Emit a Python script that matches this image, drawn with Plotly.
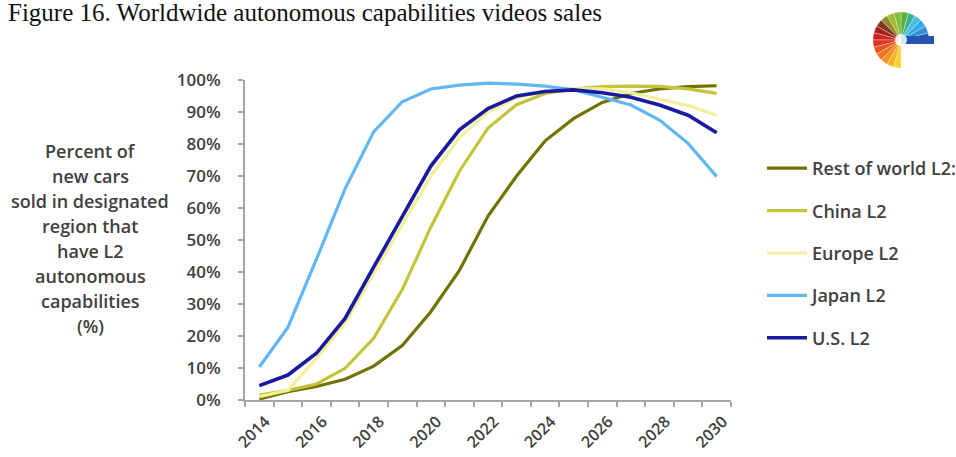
import math
import plotly.graph_objects as go

# Share of new cars sold with L2 autonomous capabilities, by region (%)
years = list(range(2014, 2031))
rest_of_world = [0.3, 2.6, 4.2, 6.5, 10.6, 17.0, 27.6, 40.5, 57.5, 70.0, 81.0, 88.0, 93.0, 95.8, 97.2, 97.9, 98.2]
china = [1.5, 3.0, 5.0, 9.9, 19.3, 34.5, 54.0, 71.5, 85.0, 92.3, 95.8, 97.2, 97.9, 98.1, 98.0, 97.2, 95.8]
europe = [1.0, 3.0, 13.0, 24.0, 39.5, 55.0, 70.0, 82.0, 90.0, 94.5, 96.5, 97.3, 97.2, 96.0, 94.0, 92.0, 89.0]
japan = [10.3, 22.7, 44.0, 66.0, 83.8, 93.2, 97.2, 98.4, 99.0, 98.7, 98.1, 96.9, 94.6, 92.2, 87.5, 80.2, 69.8]
us = [4.5, 7.8, 14.6, 25.5, 41.5, 57.5, 73.1, 84.4, 91.1, 95.0, 96.4, 96.9, 96.0, 94.6, 92.2, 89.0, 83.5]

series_names = ["Rest of world L2:", "China L2", "Europe L2", "Japan L2", "U.S. L2"]
series_values = [rest_of_world, china, europe, japan, us]
series_colors = ["#727200", "#C4C43A", "#F4EF9C", "#62B6F4", "#1A1AA0"]

label_years = list(range(2014, 2031, 2))
y_title_lines = ["Percent of", "new cars", "sold in designated", "region that",
                 "have L2", "autonomous", "capabilities", "(%)"]

W, H = 956, 457
L, R, T, B = 245, 731, 80, 400  # plot area in pixels


def px_x(p):
    return (p - L) / (R - L)


def px_y(p):
    return (B - p) / (B - T)


TEXT = "#404040"
AXIS = "#A6A6A6"
SANS = "Open Sans"

fig = go.Figure()
for i, (name, vals, col) in enumerate(zip(series_names, series_values, series_colors)):
    fig.add_trace(go.Scatter(
        x=years, y=vals, mode="lines", name=name,
        line=dict(color=col, width=3.6 if i == 4 else 3.2),
        legendgroup=f"g{i}",
    ))

fig.update_layout(
    width=W, height=H,
    margin=dict(l=L, r=W - R, t=T, b=H - B, pad=0, autoexpand=False),
    paper_bgcolor="white", plot_bgcolor="white",
    showlegend=True,
    legend=dict(
        xref="container", yref="container",
        x=762 / W, y=1 - 150 / H, xanchor="left", yanchor="top",
        tracegroupgap=16,
        font=dict(family=SANS, size=18, color=TEXT, weight=600),
        bgcolor="rgba(0,0,0,0)", itemwidth=40,
    ),
    xaxis=dict(
        range=[2013.5, 2030.5], tickmode="array", tickvals=label_years,
        ticktext=[str(y) for y in label_years], tickangle=-45,
        ticks="", showline=True, linecolor=AXIS, linewidth=2,
        showgrid=False, zeroline=False, automargin=False,
        ticklabelshift=6, ticklabelstandoff=4,
        tickfont=dict(family=SANS, size=16, color=TEXT, weight=600),
        minor=dict(tickvals=[y - 0.5 for y in years] + [2030.5], ticks="outside",
                   ticklen=5, tickcolor=AXIS, tickwidth=1.5, showgrid=False),
    ),
    yaxis=dict(
        range=[0, 100], tickmode="linear", tick0=0, dtick=10, ticksuffix="%",
        ticks="outside", ticklen=5, tickcolor=AXIS, tickwidth=1.5,
        showline=True, linecolor=AXIS, linewidth=2, ticklabelstandoff=14,
        showgrid=False, zeroline=False, automargin=False,
        tickfont=dict(family=SANS, size=17, color=TEXT, weight=600),
    ),
)

# Figure caption
fig.add_annotation(
    text="Figure 16. Worldwide autonomous capabilities videos sales",
    xref="paper", yref="paper", x=px_x(6), y=px_y(13),
    xanchor="left", yanchor="middle", showarrow=False,
    font=dict(family="Liberation Serif", size=25, color="#111111"),
)

# Horizontal axis title, one line per annotation
for k, line in enumerate(y_title_lines):
    fig.add_annotation(
        text=line, xref="paper", yref="paper",
        x=px_x(90), y=px_y(151 + 25 * k), xanchor="center", yanchor="middle",
        showarrow=False,
        font=dict(family=SANS, size=18, color=TEXT, weight=600),
    )

# Colour-fan logo in the top-right corner
fan_colors = ["#1F5FB4", "#2E8FD3", "#33A9E2", "#46BCE3", "#3FB09B", "#5DAF3E",
              "#83BF3F", "#A4BA32", "#8C8F2E", "#8A3222", "#A5231F", "#D0231F",
              "#E2321F", "#E85322", "#F07323", "#F49322", "#F8B323", "#F8D233"]
cx, cy, rad = px_x(901), px_y(40), 28
step = 270 / len(fan_colors)
for j, col in enumerate(fan_colors):
    a0 = math.radians(j * step)
    a1 = math.radians((j + 1) * step)
    pts = ["M 0 0"]
    for t in range(5):
        a = a0 + (a1 - a0) * t / 4
        pts.append(f"L {rad * math.cos(a):.2f} {rad * math.sin(a):.2f}")
    pts.append("Z")
    fig.add_shape(type="path", xref="paper", yref="paper", xsizemode="pixel",
                  ysizemode="pixel", xanchor=cx, yanchor=cy, path=" ".join(pts),
                  fillcolor=col, line=dict(width=0.6, color="rgba(255,255,255,0.5)"),
                  layer="above")
fig.add_shape(type="rect", xref="paper", yref="paper", xsizemode="pixel",
              ysizemode="pixel", xanchor=cx, yanchor=cy, x0=0, x1=33, y0=-4, y1=4,
              fillcolor="#2456B0", line=dict(width=0), layer="above")
fig.add_shape(type="circle", xref="paper", yref="paper", xsizemode="pixel",
              ysizemode="pixel", xanchor=cx, yanchor=cy, x0=-6, x1=6, y0=-6, y1=6,
              fillcolor="rgba(255,255,255,0.85)", line=dict(width=0), layer="above")

fig.write_html("out.html")
